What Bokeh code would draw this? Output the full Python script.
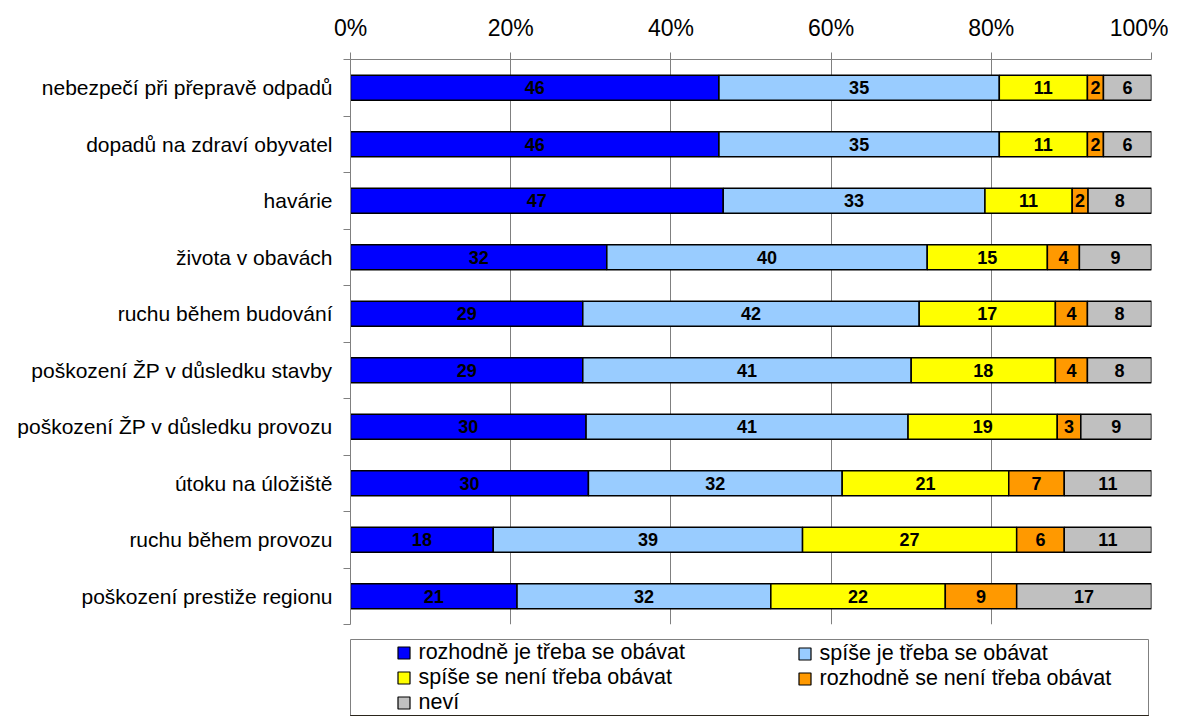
from bokeh.plotting import figure
from bokeh.models import Range1d, FixedTicker, ColumnDataSource, Legend, LegendItem, PrintfTickFormatter
from bokeh.layouts import column
from bokeh.embed import file_html
from bokeh.resources import INLINE
from bokeh.core.properties import value

categories = [
    "nebezpečí při přepravě odpadů",
    "dopadů na zdraví obyvatel",
    "havárie",
    "života v obavách",
    "ruchu během budování",
    "poškození ŽP v důsledku stavby",
    "poškození ŽP v důsledku provozu",
    "útoku na úložiště",
    "ruchu během provozu",
    "poškození prestiže regionu",
]
rozhodne_je = [46, 46, 47, 32, 29, 29, 30, 30, 18, 21]
spise_je = [35, 35, 33, 40, 42, 41, 41, 32, 39, 32]
spise_neni = [11, 11, 11, 15, 17, 18, 19, 21, 27, 22]
rozhodne_neni = [2, 2, 2, 4, 4, 4, 3, 7, 6, 9]
nevi = [6, 6, 8, 9, 8, 8, 9, 11, 11, 17]

series = [rozhodne_je, spise_je, spise_neni, rozhodne_neni, nevi]
series_names = [
    "rozhodně je třeba se obávat",
    "spíše je třeba se obávat",
    "spíše se není třeba obávat",
    "rozhodně se není třeba obávat",
    "neví",
]
colors = ["#0000FF", "#99CCFF", "#FFFF00", "#FF9900", "#C0C0C0"]
x_ticks = [0, 20, 40, 60, 80, 100]

FONT = value("Liberation Sans")
GRID = "#808080"

n = len(categories)
ypos = [i + 0.5 for i in range(n)]
totals = [sum(s[i] for s in series) for i in range(n)]

data = {"y": ypos}
lab_x, lab_y, lab_t = [], [], []
for i in range(n):
    acc = 0.0
    for k, s in enumerate(series):
        left = acc
        acc += s[i] / totals[i] * 100.0
        data.setdefault(f"l{k}", []).append(left)
        data.setdefault(f"r{k}", []).append(acc)
        lab_x.append((left + acc) / 2)
        lab_y.append(ypos[i])
        lab_t.append(str(s[i]))
src = ColumnDataSource(data)
lab_src = ColumnDataSource(dict(x=lab_x, y=lab_y, t=lab_t))

p = figure(
    frame_width=801, frame_height=565,
    min_border_left=349, min_border_right=18, min_border_top=59, min_border_bottom=15,
    x_range=Range1d(0, 100), y_range=Range1d(n, 0),
    x_axis_location="above", toolbar_location=None, output_backend="svg",
)
p.outline_line_color = None
p.background_fill_color = "white"

for k in range(len(series)):
    p.hbar(y="y", left=f"l{k}", right=f"r{k}", height=0.44, source=src,
           fill_color=colors[k], line_color="black", line_width=1.5)

p.text(x="x", y="y", text="t", source=lab_src, text_align="center", text_baseline="middle",
       text_font=FONT, text_font_style="bold", text_font_size="18px", text_color="black")

xa = p.xaxis[0]
xa.ticker = FixedTicker(ticks=x_ticks)
xa.formatter = PrintfTickFormatter(format="%d%%")
xa.major_label_text_font = "Liberation Sans"
xa.major_label_text_font_size = "23px"
xa.major_label_text_color = "black"
xa.major_tick_out = 7
xa.major_tick_in = 0
xa.minor_tick_line_color = None
xa.major_tick_line_color = GRID
xa.axis_line_color = GRID
xa.major_label_standoff = 12

ya = p.yaxis[0]
ya.ticker = FixedTicker(ticks=ypos, minor_ticks=list(range(n + 1)))
ya.major_label_overrides = {y: c for y, c in zip(ypos, categories)}
ya.major_label_text_font = "Liberation Sans"
ya.major_label_text_font_size = "21px"
ya.major_label_text_color = "black"
ya.major_tick_line_color = None
ya.major_tick_out = 0
ya.major_tick_in = 0
ya.minor_tick_out = 7
ya.minor_tick_in = 0
ya.minor_tick_line_color = GRID
ya.axis_line_color = GRID
ya.major_label_standoff = 11

p.xgrid.ticker = FixedTicker(ticks=x_ticks)
p.xgrid.grid_line_color = GRID
p.ygrid.visible = False

# legend panel (outline = legend box)
p2 = figure(
    frame_width=798, frame_height=76,
    min_border_left=350, min_border_right=20, min_border_top=0, min_border_bottom=1,
    x_range=Range1d(0, 1), y_range=Range1d(0, 1),
    x_axis_location=None, y_axis_location=None,
    toolbar_location=None, output_backend="svg",
)
p2.grid.visible = False
p2.outline_line_color = GRID
# legend-only renderers, kept outside the visible range
rs = [p2.hbar(y=[-10], left=[0], right=[1], height=0.5, fill_color=c, line_color="black", line_width=1.2)
      for c in colors]


def make_legend(idx, loc):
    return Legend(
        items=[LegendItem(label=series_names[i], renderers=[rs[i]]) for i in idx],
        location=loc, orientation="vertical",
        border_line_color=None, background_fill_alpha=0,
        padding=0, margin=0, spacing=0,
        glyph_width=15, glyph_height=15, label_standoff=8, label_height=24,
        label_text_font="Liberation Sans", label_text_font_size="21.5px",
        label_text_color="black",
    )


p2.add_layout(make_legend([0, 2, 4], (45.5, 0)))
p2.add_layout(make_legend([1, 3], (446.5, 24)))

layout = column(p, p2, spacing=0)
open("out.html", "w").write(file_html(layout, INLINE))
